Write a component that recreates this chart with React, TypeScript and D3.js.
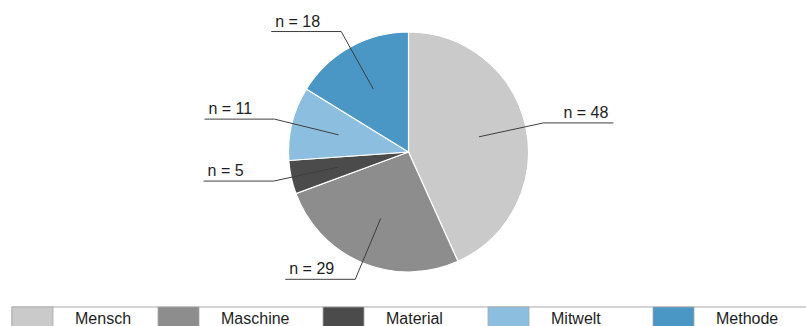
import React from "react";
import * as d3 from "d3";

const categories = ["Mensch", "Maschine", "Material", "Mitwelt", "Methode"];
const counts = [48, 29, 5, 11, 18];
const colors = ["#cacaca", "#8d8d8d", "#4b4b4b", "#8cbee0", "#4a96c4"];

// layout
const W = 806;
const H = 326;
const CX = 408.5;
const CY = 152;
const R = 120;
const ANCHOR_R = 72;
const ELBOW_R = 138;
const ARM = 70;
const legendX = [12, 158, 323, 488, 653];
const LEGEND_Y = 307;
const SWATCH_W = 41;
const FONT = "'Helvetica Neue', Helvetica, Arial, 'Liberation Sans', sans-serif";

type Datum = { name: string; value: number; color: string };

export default function App() {
  const data: Datum[] = categories.map((name, i) => ({
    name,
    value: counts[i],
    color: colors[i],
  }));
  const pie = d3
    .pie<Datum>()
    .sort(null)
    .value((d) => d.value);
  const arcs = pie(data);
  const arc = d3.arc<d3.PieArcDatum<Datum>>().innerRadius(0).outerRadius(R);
  const anchorArc = d3
    .arc<d3.PieArcDatum<Datum>>()
    .innerRadius(ANCHOR_R)
    .outerRadius(ANCHOR_R);
  const elbowArc = d3
    .arc<d3.PieArcDatum<Datum>>()
    .innerRadius(ELBOW_R)
    .outerRadius(ELBOW_R);

  return (
    <svg
      width={W}
      height={H}
      style={{ position: "absolute", left: 0, top: 0, display: "block", background: "#fff" }}
      fontFamily={FONT}
    >
      <g transform={`translate(${CX},${CY})`}>
        {arcs.map((a, i) => (
          <path key={i} d={arc(a) || ""} fill={a.data.color} stroke="#fff" strokeWidth={1.2} />
        ))}
        {arcs.map((a, i) => {
          const [ax, ay] = anchorArc.centroid(a);
          const [ex, ey] = elbowArc.centroid(a);
          const right = ex > 0;
          const endX = right ? ex + ARM : ex - ARM;
          const textX = right ? endX - 5 : endX + 4;
          return (
            <g key={`l${i}`}>
              <polyline
                points={`${ax},${ay} ${ex},${ey} ${endX},${ey}`}
                fill="none"
                stroke="#3e3e3e"
                strokeWidth={1}
              />
              <text
                x={textX}
                y={ey - 5}
                fontSize={16}
                fill="#1e1e1e"
                textAnchor={right ? "end" : "start"}
              >
                {`n = ${a.data.value}`}
              </text>
            </g>
          );
        })}
      </g>
      <g>
        <rect
          x={legendX[0]}
          y={LEGEND_Y}
          width={W - legendX[0] + 2}
          height={40}
          fill="#fff"
          stroke="#a8a8a8"
          strokeWidth={1}
        />
        {data.map((d, i) => (
          <g key={`lg${i}`}>
            <rect
              x={legendX[i]}
              y={LEGEND_Y}
              width={SWATCH_W}
              height={30}
              fill={d.color}
              stroke="#a8a8a8"
              strokeWidth={0.8}
            />
            <text x={legendX[i] + SWATCH_W + 22} y={324} fontSize={16} fill="#1e1e1e">
              {d.name}
            </text>
          </g>
        ))}
      </g>
    </svg>
  );
}
